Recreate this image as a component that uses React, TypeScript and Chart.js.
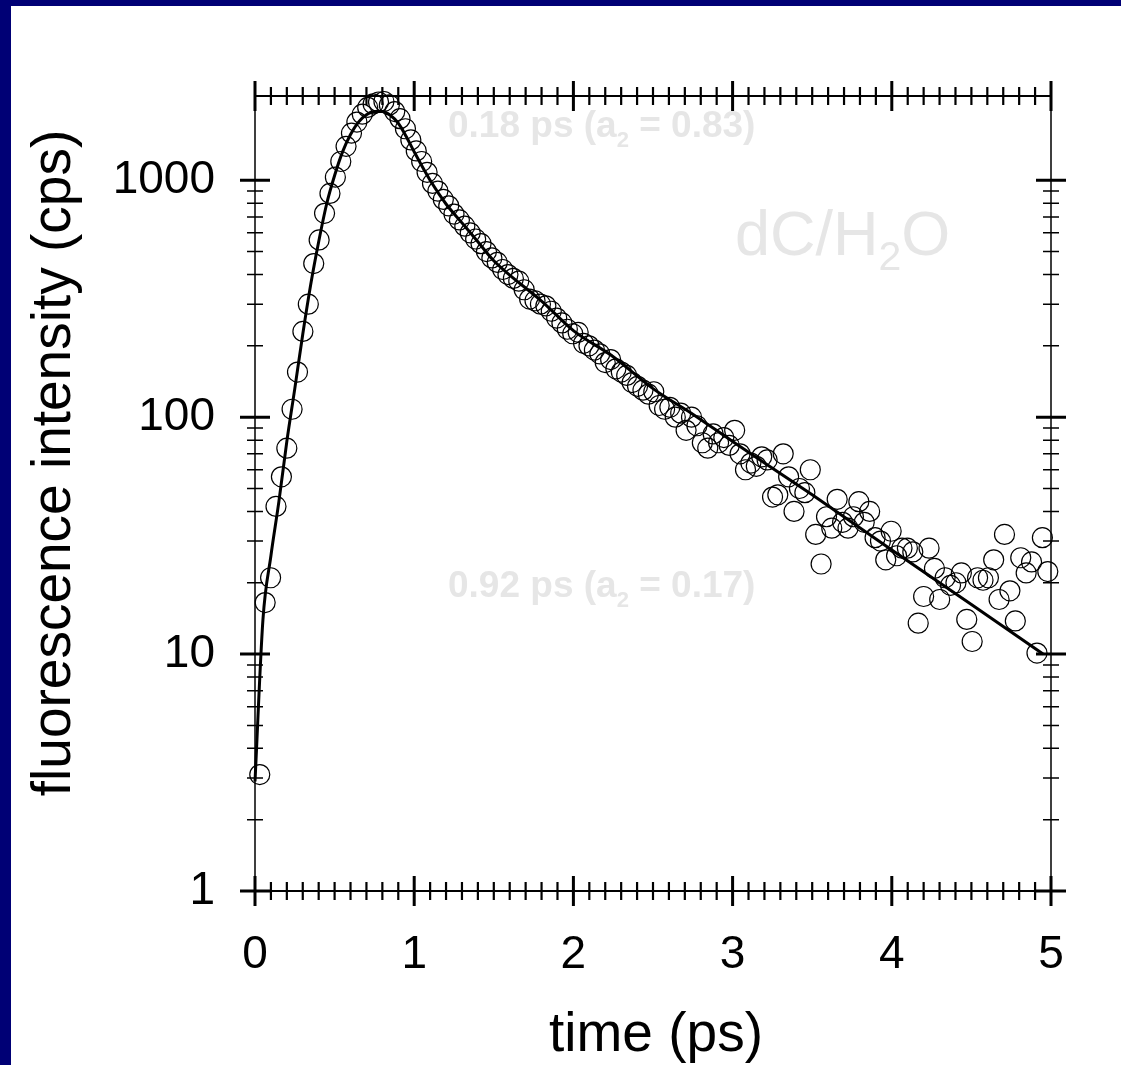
import { useEffect, useRef } from 'react';
import { Chart, registerables } from 'chart.js';
Chart.register(...registerables);

const FONT = '"Liberation Sans", Arial, Helvetica, sans-serif';

// measurement times (ps)
const times = [
  0.030, 0.064, 0.098, 0.132, 0.166, 0.200, 0.233, 0.267, 0.301, 0.335,
  0.369, 0.403, 0.437, 0.471, 0.505, 0.539, 0.572, 0.606, 0.640, 0.674,
  0.708, 0.742, 0.776, 0.810, 0.844, 0.878, 0.911, 0.945, 0.979, 1.013,
  1.047, 1.081, 1.115, 1.149, 1.183, 1.217, 1.250, 1.284, 1.318, 1.352,
  1.386, 1.420, 1.454, 1.488, 1.522, 1.556, 1.589, 1.623, 1.657, 1.691,
  1.725, 1.759, 1.793, 1.827, 1.861, 1.895, 1.928, 1.962, 1.996, 2.030,
  2.064, 2.098, 2.132, 2.166, 2.200, 2.234, 2.267, 2.301, 2.335, 2.369,
  2.403, 2.437, 2.471, 2.505, 2.539, 2.573, 2.606, 2.640, 2.674, 2.708,
  2.742, 2.776, 2.810, 2.844, 2.878, 2.912, 2.945, 2.979, 3.013, 3.047,
  3.081, 3.115, 3.149, 3.183, 3.217, 3.251, 3.284, 3.318, 3.352, 3.386,
  3.420, 3.454, 3.488, 3.522, 3.556, 3.590, 3.623, 3.657, 3.691, 3.725,
  3.759, 3.793, 3.827, 3.861, 3.895, 3.929, 3.962, 3.996, 4.030, 4.064,
  4.098, 4.132, 4.166, 4.200, 4.234, 4.268, 4.301, 4.335, 4.369, 4.403,
  4.437, 4.471, 4.505, 4.539, 4.573, 4.607, 4.640, 4.674, 4.708, 4.742,
  4.776, 4.810, 4.844, 4.878, 4.912, 4.946, 4.980,
];

// measured fluorescence counts (cps)
const counts = [
  3.1, 16.5, 21, 42, 56, 74, 108, 155, 230, 300,
  445, 560, 725, 880, 1030, 1200, 1390, 1580, 1760, 1900,
  2030, 2100, 2140, 2150, 2080, 1950, 1820, 1650, 1480, 1330,
  1200, 1080, 970, 900, 830, 780, 720, 680, 640, 600,
  565, 540, 500, 470, 450, 420, 400, 385, 375, 345,
  315, 310, 300, 295, 280, 262, 250, 235, 225, 228,
  205, 200, 192, 185, 170, 175, 160, 155, 150, 140,
  135, 130, 125, 128, 112, 108, 110, 100, 104, 88,
  100, 92, 78, 74, 85, 78, 82, 76, 88, 70,
  60, 64, 62, 68, 66, 46, 47, 70, 56, 40,
  50, 48, 60, 32, 24, 38, 34, 45, 36, 34,
  38, 44, 36, 40, 31, 30, 25, 33, 26, 28,
  28, 27, 13.5, 17.5, 28, 23, 17, 21, 19.5, 20,
  22, 14, 11.3, 21, 20.5, 21, 25, 17, 32, 18.5,
  13.8, 25.5, 22, 24.5, 10.1, 31, 22.3,
];

// fitted bi-exponential curve
const fitTimes = [
  0, 0.05, 0.1, 0.15, 0.2, 0.25, 0.3, 0.35, 0.4, 0.45, 0.5, 0.55, 0.6, 0.65,
  0.7, 0.75, 0.8, 0.85, 0.9, 0.95, 1.0, 1.1, 1.2, 1.3, 1.4, 1.5, 1.6, 1.8,
  2.0, 2.25, 2.5, 2.75, 3.0, 3.5, 4.0, 4.5, 4.95,
];
const fitCounts = [
  2.9, 14, 26, 44, 79, 132, 224, 363, 550, 794, 1047, 1318, 1560, 1760,
  1890, 1950, 1950, 1880, 1740, 1530, 1318, 1000, 794, 661, 550, 457, 398, 309,
  232, 180, 132, 103, 79, 47, 27.5, 16.2, 10,
];

const xMajorTicks = [0, 1, 2, 3, 4, 5];
const yMajorTicks = [1, 10, 100, 1000];
const xTickLabels = ['0', '1', '2', '3', '4', '5'];
const yTickLabels = ['1', '10', '100', '1000'];
const Y_MAX = 2268;

const xTitle = 'time (ps)';
const yTitle = 'fluorescence intensity (cps)';
const noteFast: [string, boolean][] = [['0.18 ps (a', false], ['2', true], [' = 0.83)', false]];
const noteSlow: [string, boolean][] = [['0.92 ps (a', false], ['2', true], [' = 0.17)', false]];
const sampleLabel: [string, boolean][] = [['dC/H', false], ['2', true], ['O', false]];

function drawParts(ctx: CanvasRenderingContext2D, x: number, y: number, parts: [string, boolean][],
  size: number, subSize: number, subDy: number, weight: string, color: string) {
  let cx = x;
  ctx.fillStyle = color;
  ctx.textAlign = 'left';
  ctx.textBaseline = 'alphabetic';
  for (const [s, sub] of parts) {
    ctx.font = `${weight} ${sub ? subSize : size}px ${FONT}`;
    ctx.fillText(s, cx, sub ? y + subDy : y);
    cx += ctx.measureText(s).width;
  }
}

const framePlugin = {
  id: 'frame',
  beforeDatasetsDraw(chart: any) {
    const { ctx, chartArea: a, scales } = chart;
    const xs = scales.x, ys = scales.y;
    ctx.save();
    ctx.strokeStyle = '#000';
    ctx.lineCap = 'butt';
    // vertical frame lines
    ctx.lineWidth = 1.5;
    ctx.beginPath();
    ctx.moveTo(a.left, a.top); ctx.lineTo(a.left, a.bottom);
    ctx.moveTo(a.right, a.top); ctx.lineTo(a.right, a.bottom);
    ctx.stroke();
    // horizontal frame lines
    ctx.lineWidth = 2;
    ctx.beginPath();
    ctx.moveTo(a.left, a.top); ctx.lineTo(a.right, a.top);
    ctx.moveTo(a.left, a.bottom); ctx.lineTo(a.right, a.bottom);
    ctx.stroke();
    // x ticks (top & bottom), crossing the axis
    for (let i = 0; i < xMajorTicks.length; i++) {
      const v0 = xMajorTicks[i];
      const px = xs.getPixelForValue(v0);
      ctx.lineWidth = 3;
      ctx.beginPath();
      for (const yy of [a.top, a.bottom]) { ctx.moveTo(px, yy - 15); ctx.lineTo(px, yy + 15); }
      ctx.stroke();
      if (i < xMajorTicks.length - 1) {
        const step = (xMajorTicks[i + 1] - v0) / 10;
        ctx.lineWidth = 2.2;
        ctx.beginPath();
        for (let k = 1; k < 10; k++) {
          const p = xs.getPixelForValue(v0 + k * step);
          for (const yy of [a.top, a.bottom]) { ctx.moveTo(p, yy - 9); ctx.lineTo(p, yy + 9); }
        }
        ctx.stroke();
      }
    }
    // y ticks (left & right)
    for (let i = 0; i < yMajorTicks.length; i++) {
      const v0 = yMajorTicks[i];
      const py = ys.getPixelForValue(v0);
      ctx.lineWidth = 3;
      ctx.beginPath();
      for (const xx of [a.left, a.right]) { ctx.moveTo(xx - 15, py); ctx.lineTo(xx + 15, py); }
      ctx.stroke();
      if (i < yMajorTicks.length - 1) {
        ctx.lineWidth = 1.5;
        ctx.beginPath();
        for (let k = 2; k < 10; k++) {
          const p = ys.getPixelForValue(v0 * k);
          for (const xx of [a.left, a.right]) { ctx.moveTo(xx - 8, p); ctx.lineTo(xx + 8, p); }
        }
        ctx.stroke();
      }
    }
    ctx.restore();
  },
  afterDraw(chart: any) {
    const { ctx, chartArea: a } = chart;
    ctx.save();
    const light = '#e6e6e6';
    drawParts(ctx, 437, 131, noteFast, 37, 22, 10, 'bold', light);
    drawParts(ctx, 437, 591, noteSlow, 37, 22, 10, 'bold', light);
    drawParts(ctx, 724, 249, sampleLabel, 63, 41, 15, 'normal', light);
    // axis titles
    ctx.fillStyle = '#000';
    ctx.font = `55px ${FONT}`;
    ctx.textAlign = 'center';
    ctx.textBaseline = 'alphabetic';
    ctx.fillText(xTitle, (a.left + a.right) / 2 + 3, 1045);
    ctx.translate(58.5, 457);
    ctx.rotate(-Math.PI / 2);
    ctx.fillText(yTitle, 0, 0);
    ctx.restore();
  },
};

export default function App() {
  const ref = useRef<HTMLCanvasElement>(null);
  useEffect(() => {
    const scatterData = times.map((t, i) => ({ x: t, y: counts[i] }));
    const fitData = fitTimes.map((t, i) => ({ x: t, y: fitCounts[i] }));
    const chart = new Chart(ref.current!, {
      type: 'scatter',
      data: {
        datasets: [
          {
            type: 'line',
            data: fitData,
            borderColor: '#000',
            borderWidth: 3,
            pointRadius: 0,
            fill: false,
            cubicInterpolationMode: 'monotone',
            order: 1,
            clip: false,
          } as any,
          {
            data: scatterData,
            borderColor: '#000',
            backgroundColor: 'rgba(255,255,255,0)',
            borderWidth: 1.2,
            pointRadius: 10,
            pointHoverRadius: 10,
            order: 2,
            clip: false,
          } as any,
        ],
      },
      options: {
        responsive: false,
        animation: false,
        events: [],
        layout: { padding: { left: 0, right: 70, top: 90, bottom: 0 } },
        plugins: { legend: { display: false }, tooltip: { enabled: false } },
        scales: {
          x: {
            type: 'linear',
            min: 0,
            max: 5,
            grid: { display: false, drawTicks: false },
            border: { display: false },
            afterBuildTicks: (s: any) => { s.ticks = xMajorTicks.map((v) => ({ value: v })); },
            afterFit: (s: any) => { s.height = 174; },
            ticks: {
              autoSkip: false,
              maxRotation: 0,
              padding: 41,
              color: '#000',
              font: { family: FONT, size: 46, lineHeight: 1 },
              callback: (_v: any, i: number) => xTickLabels[i],
            },
          },
          y: {
            type: 'logarithmic',
            min: 1,
            max: Y_MAX,
            grid: { display: false, drawTicks: false },
            border: { display: false },
            afterBuildTicks: (s: any) => { s.ticks = yMajorTicks.map((v) => ({ value: v })); },
            afterFit: (s: any) => { s.width = 244; },
            ticks: {
              autoSkip: false,
              padding: 40,
              color: '#000',
              font: { family: FONT, size: 46, lineHeight: 1 },
              callback: (_v: any, i: number) => yTickLabels[i],
            },
          },
        },
      },
      plugins: [framePlugin],
    } as any);
    return () => chart.destroy();
  }, []);
  return (
    <div style={{ position: 'absolute', left: 0, top: 0, width: 1121, height: 1065, background: '#000075', overflow: 'hidden' }}>
      <canvas
        ref={ref}
        width={1110}
        height={1059}
        style={{ position: 'absolute', left: 11, top: 6, width: 1110, height: 1059, background: '#fff' }}
      />
    </div>
  );
}
